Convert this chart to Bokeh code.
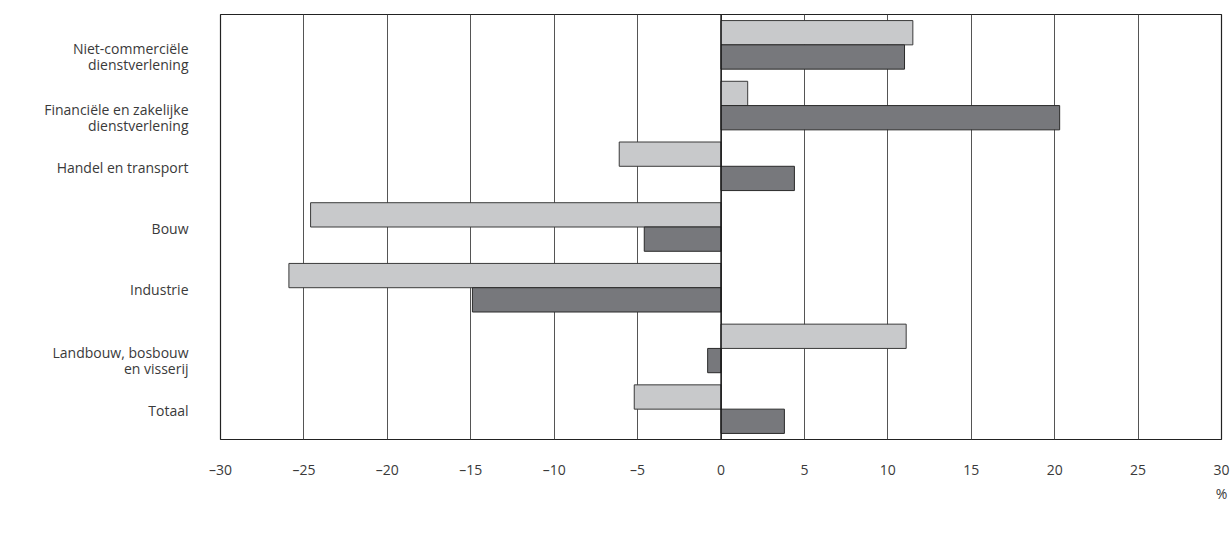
from bokeh.plotting import figure
from bokeh.models import (ColumnDataSource, FixedTicker, Legend, LegendItem, Span,
                          LinearAxis, Range1d)
from bokeh.transform import dodge
from bokeh.embed import file_html
from bokeh.resources import INLINE

categories = [
    "Niet-commerciële dienstverlening",
    "Financiële en zakelijke dienstverlening",
    "Handel en transport",
    "Bouw",
    "Industrie",
    "Landbouw, bosbouw en visserij",
    "Totaal",
]
category_labels = [
    "Niet-commerciële\ndienstverlening",
    "Financiële en zakelijke\ndienstverlening",
    "Handel en transport",
    "Bouw",
    "Industrie",
    "Landbouw, bosbouw\nen visserij",
    "Totaal",
]
maas_rijn = [11.0, 20.3, 4.4, -4.6, -14.9, -0.8, 3.8]
zuid_limburg = [11.5, 1.6, -6.1, -24.6, -25.9, 11.1, -5.2]
series_names = ["Maas-Rijn", "Zuid-Limburg"]
x_ticks = [-30, -25, -20, -15, -10, -5, 0, 5, 10, 15, 20, 25, 30]
x_tick_labels = ["–30", "–25", "–20", "–15", "–10", "–5", "0", "5", "10", "15", "20", "25", "30"]
unit_label = "%"

FONT = "Open Sans"
TEXT = "#3a3a3a"
FRAME_H = 425

n = len(categories)
# slot position of each category on a numeric y scale (first category on top)
slot = [n - 1 - i + 0.5 for i in range(n)]
src = ColumnDataSource(dict(y=slot, mr=maas_rijn, zl=zuid_limburg))

p = figure(
    y_range=Range1d(0, n),
    x_range=(x_ticks[0], x_ticks[-1]),
    frame_width=1001,
    frame_height=FRAME_H,
    min_border_left=220,
    min_border_right=10,
    min_border_top=14,
    min_border_bottom=0,
    output_backend="svg",
    toolbar_location=None,
    background_fill_color="white",
    border_fill_color="white",
)
p.outline_line_color = "#222222"
p.outline_line_width = 1.2

zl_r = p.hbar(y=dodge("y", 0.2), left=0, right="zl", height=0.4,
              source=src, fill_color="#c8c9cb", line_color="#3a3a3a", line_width=1)
mr_r = p.hbar(y=dodge("y", -0.2), left=0, right="mr", height=0.4,
              source=src, fill_color="#77787c", line_color="#2a2a2a", line_width=1)

p.add_layout(Span(location=0, dimension="height", line_color="#111111", line_width=1.3))

# grid
p.ygrid.visible = False
p.xgrid.ticker = FixedTicker(ticks=x_ticks)
p.xgrid.grid_line_color = "#555555"
p.xgrid.grid_line_width = 1


def style_axis(ax, standoff):
    ax.axis_line_color = None
    ax.major_tick_line_color = None
    ax.minor_tick_line_color = None
    ax.major_tick_out = 0
    ax.major_tick_in = 0
    ax.major_label_standoff = standoff
    ax.major_label_text_font = FONT
    ax.major_label_text_font_size = "14px"
    ax.major_label_text_color = TEXT


# x axis
xa = p.xaxis[0]
xa.ticker = FixedTicker(ticks=x_ticks)
xa.major_label_overrides = {t: l for t, l in zip(x_ticks, x_tick_labels)}
style_axis(xa, 20)

# unit "%" as a second bottom axis, under the last tick
ua = LinearAxis(ticker=FixedTicker(ticks=[x_ticks[-1]]),
                major_label_overrides={x_ticks[-1]: unit_label})
style_axis(ua, 2)
ua.major_label_text_align = "right"
p.add_layout(ua, "below")

# y axis: category labels (one tick per text line) at the category slots
unit_px = FRAME_H / n
lab_ticks, lab_over = [], {}
for s, lab in zip(slot, category_labels):
    lines = lab.split("\n")
    offs = [1.5] if len(lines) == 1 else [4, 20]
    for line, off in zip(lines, offs):
        tk = round(s - off / unit_px, 4)
        lab_ticks.append(tk)
        lab_over[tk] = line
ya = p.yaxis[0]
ya.ticker = FixedTicker(ticks=lab_ticks)
ya.major_label_overrides = lab_over
style_axis(ya, 32)

legend = Legend(
    items=[LegendItem(label=series_names[0], renderers=[mr_r]),
           LegendItem(label=series_names[1], renderers=[zl_r])],
    orientation="horizontal",
    location=(-2, 13),
    glyph_width=30,
    glyph_height=22,
    label_standoff=12,
    spacing=34,
    padding=0,
    margin=0,
    border_line_color=None,
    background_fill_alpha=0,
    label_text_font=FONT,
    label_text_font_size="14px",
    label_text_color=TEXT,
)
p.add_layout(legend, "below")

open("out.html", "w").write(file_html(p, INLINE))
